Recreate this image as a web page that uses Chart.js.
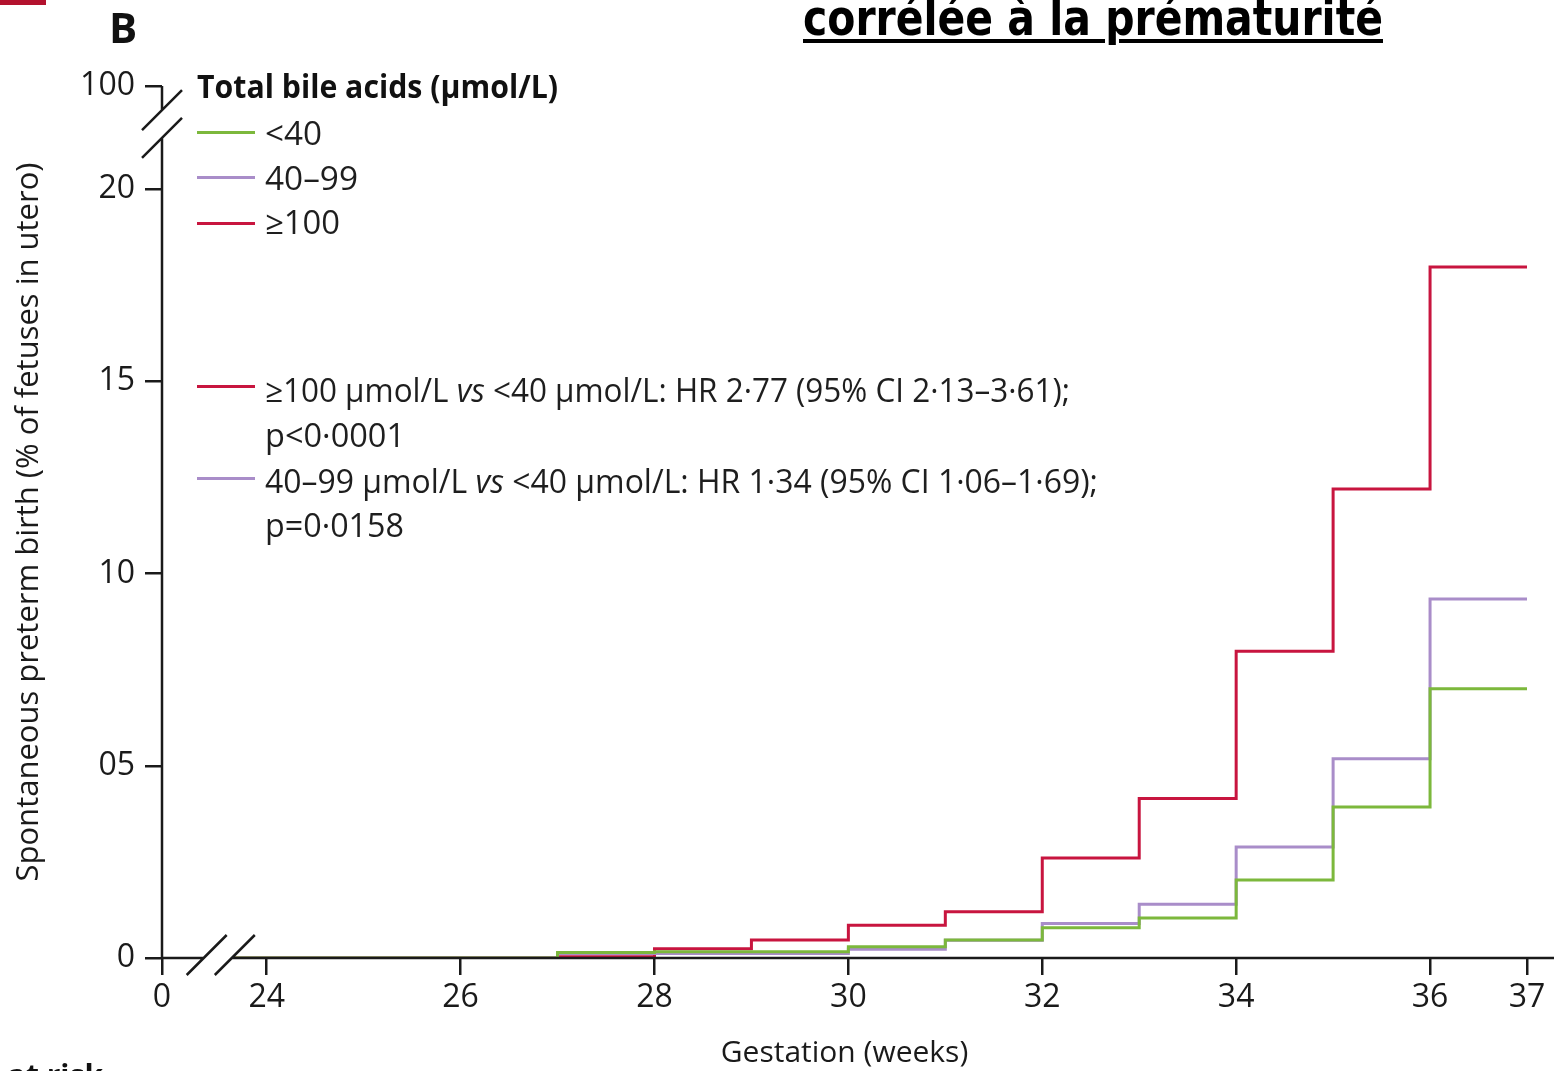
<!DOCTYPE html>
<html>
<head>
<meta charset="utf-8">
<script src="https://cdn.jsdelivr.net/npm/chart.js@4.4.1/dist/chart.umd.min.js"></script>
<style>
  html, body { margin: 0; padding: 0; background: #fff; }
  #wrap { position: relative; width: 1554px; height: 1071px; overflow: hidden; }
  #chart { position: absolute; left: 0; top: 0; }
  .txt { position: absolute; white-space: nowrap; font-family: "Open Sans", sans-serif;
         color: #1e1e1e; line-height: 1; transform-origin: 0 0; }
  .key { position: absolute; height: 3px; width: 58px; left: 197px; }
</style>
</head>
<body>
<div id="wrap">
  <canvas id="chart" width="1554" height="1071"></canvas>

  <div style="position:absolute;left:0;top:0;width:46px;height:5px;background:#b3122e"></div>
  <div class="txt" style="left:-6px;top:-6px;font-family:'DejaVu Sans',sans-serif;font-weight:bold;font-size:49px;color:#000;
       text-decoration:underline;text-decoration-thickness:4px;text-underline-offset:4px" data-x="803" data-w="580">corrélée à la prématurité</div>
  <div class="txt" style="left:109px;top:6px;font-size:42px;font-weight:bold;color:#111">B</div>

  <!-- légende -->
  <div class="txt" style="top:70px;font-size:32px;font-weight:bold;color:#111" data-x="197" data-w="361">Total bile acids (µmol/L)</div>
  <div class="key" style="top:131px;background:#7cb83c"></div>
  <div class="key" style="top:176px;background:#a98dc9"></div>
  <div class="key" style="top:222px;background:#c8153f"></div>
  <div class="txt" style="top:117px;font-size:32px" data-x="265" data-w="57">&lt;40</div>
  <div class="txt" style="top:162px;font-size:32px" data-x="265" data-w="93">40–99</div>
  <div class="txt" style="top:206px;font-size:32px" data-x="265" data-w="75">≥100</div>

  <!-- statistiques -->
  <div class="key" style="top:385px;background:#c8153f"></div>
  <div class="key" style="top:477px;background:#a98dc9"></div>
  <div class="txt" style="top:374px;font-size:32px" data-x="265" data-w="805">≥100 µmol/L <i>vs</i> &lt;40 µmol/L: HR 2·77 (95% CI 2·13–3·61);</div>
  <div class="txt" style="top:419px;font-size:32px" data-x="265" data-w="140">p&lt;0·0001</div>
  <div class="txt" style="top:465px;font-size:32px" data-x="265" data-w="833">40–99 µmol/L <i>vs</i> &lt;40 µmol/L: HR 1·34 (95% CI 1·06–1·69);</div>
  <div class="txt" style="top:509px;font-size:32px" data-x="265" data-w="139">p=0·0158</div>

  <div class="txt" style="right:1451px;top:1060px;font-size:30px;font-weight:bold;color:#111">Number at risk</div>
</div>

<script>
// --- Données (semaines de gestation, % de naissances prématurées) ---
const weeksLow = [23.65, 27, 28, 30, 31, 32, 33, 34, 35, 36, 37];
const rateLow = [0, 0.14, 0.16, 0.29, 0.47, 0.79, 1.04, 2.03, 3.93, 7.0, 7.0];

const weeksMid = [23.65, 27, 30, 31, 32, 33, 34, 35, 36, 37];
const rateMid = [0, 0.12, 0.23, 0.46, 0.9, 1.4, 2.89, 5.18, 9.34, 9.34];

const weeksHigh = [23.65, 27, 28, 29, 30, 31, 32, 33, 34, 35, 36, 37];
const rateHigh = [0, 0.03, 0.24, 0.47, 0.85, 1.2, 2.6, 4.15, 7.98, 12.2, 17.97, 17.97];

const seriesNames = ["<40", "40–99", "≥100"];

// axes (0 et 100 sont placés après une coupure)
const xTickValues = [22.92, 24, 26, 28, 30, 32, 34, 36, 37];
const xTickLabels = ["0", "24", "26", "28", "30", "32", "34", "36", "37"];
const yTickValues = [0, 5, 10, 15, 20, 22.68];
const yTickLabels = ["0", "05", "10", "15", "20", "100"];

const el = (id) => document.getElementById(id);
const toPoints = (xs, ys) => xs.map((x, i) => ({ x, y: ys[i] }));
const INK = "#1a1a1a";
const FONT = "'Open Sans', sans-serif";

// --- Axes coupés dessinés à la main ---
const brokenAxes = {
  id: "brokenAxes",
  afterDraw(chart) {
    const { ctx, scales: { x, y } } = chart;
    const x0 = x.getPixelForValue(x.min);
    const y0 = y.getPixelForValue(0);
    const yBreakLo = y.getPixelForValue(21.33), yBreakHi = y.getPixelForValue(22.05);
    const xBreakLo = x.getPixelForValue(23.35), xBreakHi = x.getPixelForValue(23.64);
    ctx.save();
    ctx.strokeStyle = INK;
    ctx.lineWidth = 2.5;
    ctx.lineCap = "butt";
    ctx.beginPath();
    // axe vertical
    ctx.moveTo(x0, y0); ctx.lineTo(x0, yBreakLo);
    ctx.moveTo(x0, yBreakHi); ctx.lineTo(x0, y.getPixelForValue(y.max));
    // axe horizontal
    ctx.moveTo(x0, y0); ctx.lineTo(xBreakLo, y0);
    ctx.moveTo(xBreakHi, y0); ctx.lineTo(chart.width, y0);
    // barres de coupure
    [yBreakLo, yBreakHi].forEach((py) => { ctx.moveTo(x0 - 20, py + 20); ctx.lineTo(x0 + 20, py - 20); });
    [xBreakLo, xBreakHi].forEach((px) => { ctx.moveTo(px - 17, y0 + 17); ctx.lineTo(px + 23, y0 - 23); });
    ctx.stroke();
    ctx.restore();
  }
};

const lineSet = (label, data, color) => ({
  label, data, borderColor: color, backgroundColor: color,
  borderWidth: 3, pointRadius: 0, stepped: "before", fill: false,
});

new Chart(el("chart").getContext("2d"), {
  type: "line",
  data: {
    datasets: [
      lineSet(seriesNames[0], toPoints(weeksLow, rateLow), "#7cb83c"),
      lineSet(seriesNames[1], toPoints(weeksMid, rateMid), "#a98dc9"),
      lineSet(seriesNames[2], toPoints(weeksHigh, rateHigh), "#c8153f"),
    ],
  },
  options: {
    responsive: false,
    animation: false,
    devicePixelRatio: 1,
    layout: { padding: { top: 86, right: 27, left: 0, bottom: 0 } },
    plugins: { legend: { display: false }, tooltip: { enabled: false } },
    scales: {
      x: {
        type: "linear",
        min: xTickValues[0],
        max: 37,
        afterBuildTicks: (s) => { s.ticks = xTickValues.map((v) => ({ value: v })); },
        afterFit: (s) => { s.height = 113; },
        border: { display: false },
        grid: { drawOnChartArea: false, drawTicks: true, tickLength: 17, color: INK, lineWidth: 2.5 },
        ticks: {
          autoSkip: false, maxRotation: 0, padding: 4, color: "#1a1a1a",
          font: { family: FONT, size: 32 },
          callback: (v, i) => xTickLabels[i],
        },
        title: { display: true, text: "Gestation (weeks)", color: "#1a1a1a",
                 font: { family: FONT, size: 30 }, padding: { top: 0, bottom: 0 } },
      },
      y: {
        type: "linear",
        min: 0,
        max: yTickValues[yTickValues.length - 1],
        afterBuildTicks: (s) => { s.ticks = yTickValues.map((v) => ({ value: v })); },
        afterFit: (s) => { s.width = 162; },
        border: { display: false },
        grid: { drawOnChartArea: false, drawTicks: true, tickLength: 17, color: INK, lineWidth: 2.5 },
        ticks: {
          autoSkip: false, padding: 10, color: "#1a1a1a",
          font: { family: FONT, size: 32 },
          callback: (v, i) => yTickLabels[i],
        },
        title: { display: true, text: "Spontaneous preterm birth (% of fetuses in utero)", color: "#1a1a1a",
                 font: { family: FONT, size: 31 }, padding: { top: 11, bottom: 0 } },
      },
    },
  },
  plugins: [brokenAxes],
});

// ajuste la largeur des textes sur la figure d'origine
document.querySelectorAll(".txt[data-w]").forEach((t) => {
  const w = t.getBoundingClientRect().width;
  const k = parseFloat(t.dataset.w) / w;
  t.style.left = t.dataset.x + "px";
  t.style.transform = `scaleX(${k})`;
});
</script>
</body>
</html>
